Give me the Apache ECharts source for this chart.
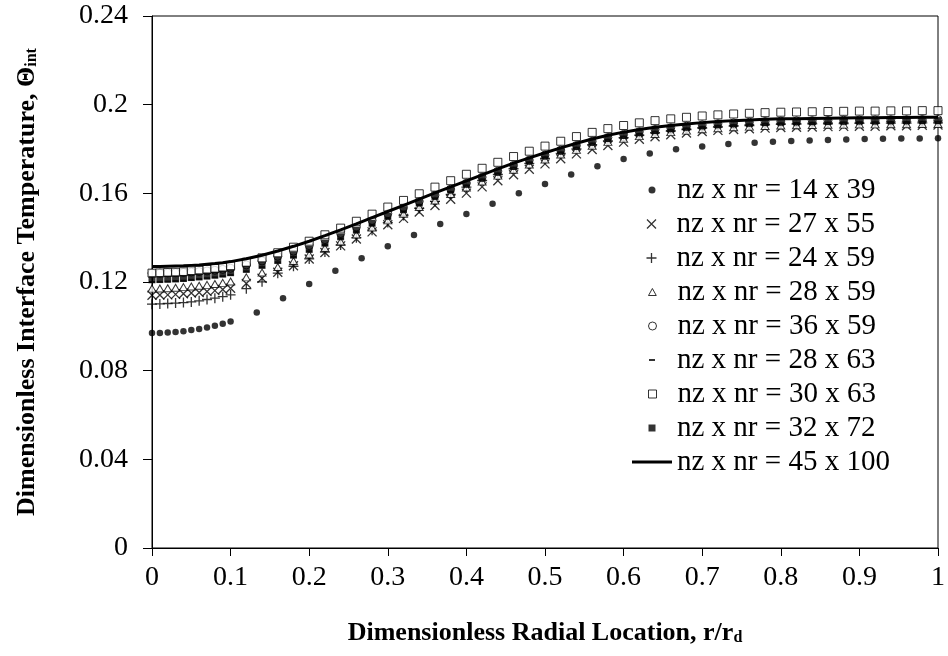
<!DOCTYPE html>
<html>
<head>
<meta charset="utf-8">
<script src="https://cdn.jsdelivr.net/npm/echarts@6/dist/echarts.min.js"></script>
<style>
  html, body { margin: 0; padding: 0; background: #fff; }
  #main { width: 948px; height: 656px; }
</style>
</head>
<body>
<div id="main"></div>
<script>
// radial positions (14 x 39 grid is coarser)
const xCoarse = [0, 0.01, 0.02, 0.03, 0.04, 0.05, 0.06, 0.07, 0.08, 0.09, 0.1,
  0.1333, 0.1667, 0.2, 0.2333, 0.2667, 0.3, 0.3333, 0.3667, 0.4, 0.4333, 0.4667, 0.5,
  0.5333, 0.5667, 0.6, 0.6333, 0.6667, 0.7, 0.7333, 0.7667,
  0.79, 0.8133, 0.8367, 0.86, 0.8833, 0.9067, 0.93, 0.9533, 0.9767, 1];
const xFine = [0, 0.01, 0.02, 0.03, 0.04, 0.05, 0.06, 0.07, 0.08, 0.09, 0.1,
  0.12, 0.14, 0.16, 0.18, 0.2, 0.22, 0.24, 0.26, 0.28, 0.3,
  0.32, 0.34, 0.36, 0.38, 0.4, 0.42, 0.44, 0.46, 0.48, 0.5,
  0.52, 0.54, 0.56, 0.58, 0.6, 0.62, 0.64, 0.66, 0.68, 0.7,
  0.72, 0.74, 0.76, 0.78, 0.8, 0.82, 0.84, 0.86, 0.88, 0.9,
  0.92, 0.94, 0.96, 0.98, 1];

const y14x39 = [0.0970, 0.0970, 0.0972, 0.0975, 0.0978, 0.0983, 0.0988, 0.0995, 0.1003, 0.1012, 0.1022,
  0.1062, 0.1127, 0.1191, 0.1251, 0.1307, 0.1361, 0.1412, 0.1462, 0.1507, 0.1553, 0.1600, 0.1642,
  0.1685, 0.1722, 0.1755, 0.1780, 0.1799, 0.1811, 0.1822, 0.1828,
  0.1833, 0.1836, 0.1838, 0.1841, 0.1843, 0.1845, 0.1846, 0.1847, 0.1847, 0.1848];

const y27x55 = [0.1140, 0.1141, 0.1142, 0.1144, 0.1147, 0.1150, 0.1153, 0.1157, 0.1161, 0.1166, 0.1172,
  0.1193, 0.1217, 0.1244, 0.1273, 0.1304, 0.1333, 0.1363, 0.1394, 0.1426, 0.1458,
  0.1487, 0.1516, 0.1545, 0.1573, 0.1601, 0.1629, 0.1657, 0.1684, 0.1709, 0.1733,
  0.1756, 0.1778, 0.1798, 0.1816, 0.1831, 0.1844, 0.1855, 0.1864, 0.1872, 0.1879,
  0.1884, 0.1888, 0.1891, 0.1894, 0.1897, 0.1898, 0.1899, 0.1901, 0.1902, 0.1903,
  0.1903, 0.1905, 0.1905, 0.1907, 0.1908];

const y24x59 = [0.1100, 0.1101, 0.1103, 0.1105, 0.1107, 0.1110, 0.1115, 0.1121, 0.1127, 0.1134, 0.1142,
  0.1170, 0.1201, 0.1240, 0.1271, 0.1304, 0.1335, 0.1367, 0.1400, 0.1434, 0.1468,
  0.1500, 0.1532, 0.1564, 0.1595, 0.1628, 0.1658, 0.1685, 0.1711, 0.1735, 0.1758,
  0.1780, 0.1801, 0.1820, 0.1837, 0.1851, 0.1863, 0.1873, 0.1881, 0.1888, 0.1894,
  0.1899, 0.1903, 0.1906, 0.1909, 0.1911, 0.1912, 0.1913, 0.1914, 0.1915, 0.1916,
  0.1916, 0.1917, 0.1917, 0.1918, 0.1918];

const y28x59 = [0.1170, 0.1171, 0.1172, 0.1174, 0.1177, 0.1180, 0.1183, 0.1187, 0.1191, 0.1196, 0.1202,
  0.1221, 0.1243, 0.1268, 0.1295, 0.1324, 0.1353, 0.1383, 0.1414, 0.1446, 0.1478,
  0.1508, 0.1538, 0.1568, 0.1597, 0.1626, 0.1653, 0.1680, 0.1706, 0.1730, 0.1753,
  0.1775, 0.1796, 0.1815, 0.1832, 0.1846, 0.1858, 0.1868, 0.1876, 0.1883, 0.1889,
  0.1894, 0.1898, 0.1901, 0.1904, 0.1906, 0.1907, 0.1908, 0.1909, 0.1910, 0.1911,
  0.1911, 0.1912, 0.1912, 0.1913, 0.1913];

const y36x59 = [0.1240, 0.1240, 0.1241, 0.1242, 0.1243, 0.1245, 0.1247, 0.1250, 0.1253, 0.1257, 0.1262,
  0.1277, 0.1295, 0.1316, 0.1339, 0.1364, 0.1391, 0.1419, 0.1448, 0.1478, 0.1508,
  0.1536, 0.1564, 0.1592, 0.1619, 0.1646, 0.1673, 0.1700, 0.1726, 0.1750, 0.1773,
  0.1795, 0.1816, 0.1835, 0.1852, 0.1866, 0.1878, 0.1888, 0.1896, 0.1903, 0.1909,
  0.1914, 0.1918, 0.1921, 0.1924, 0.1926, 0.1927, 0.1928, 0.1929, 0.1930, 0.1931,
  0.1931, 0.1932, 0.1932, 0.1933, 0.1933];

const y28x63 = [0.1200, 0.1201, 0.1202, 0.1204, 0.1206, 0.1210, 0.1213, 0.1217, 0.1221, 0.1226, 0.1232,
  0.1248, 0.1267, 0.1289, 0.1313, 0.1339, 0.1367, 0.1396, 0.1426, 0.1457, 0.1488,
  0.1518, 0.1548, 0.1578, 0.1607, 0.1636, 0.1663, 0.1690, 0.1716, 0.1740, 0.1763,
  0.1785, 0.1806, 0.1825, 0.1842, 0.1856, 0.1868, 0.1878, 0.1886, 0.1893, 0.1899,
  0.1904, 0.1908, 0.1911, 0.1914, 0.1916, 0.1917, 0.1918, 0.1919, 0.1920, 0.1921,
  0.1921, 0.1922, 0.1922, 0.1923, 0.1923];

const y30x63 = [0.1240, 0.1241, 0.1243, 0.1244, 0.1246, 0.1250, 0.1253, 0.1257, 0.1261, 0.1266, 0.1272,
  0.1289, 0.1309, 0.1332, 0.1357, 0.1384, 0.1413, 0.1443, 0.1474, 0.1506, 0.1538,
  0.1568, 0.1598, 0.1628, 0.1657, 0.1686, 0.1713, 0.1740, 0.1766, 0.1790, 0.1813,
  0.1835, 0.1856, 0.1875, 0.1892, 0.1906, 0.1918, 0.1928, 0.1936, 0.1943, 0.1949,
  0.1954, 0.1958, 0.1961, 0.1964, 0.1966, 0.1967, 0.1968, 0.1969, 0.1970, 0.1971,
  0.1971, 0.1972, 0.1972, 0.1973, 0.1973];

const y32x72 = [0.1210, 0.1211, 0.1213, 0.1214, 0.1216, 0.1220, 0.1223, 0.1227, 0.1231, 0.1236, 0.1242,
  0.1257, 0.1275, 0.1297, 0.1321, 0.1347, 0.1375, 0.1404, 0.1434, 0.1465, 0.1496,
  0.1526, 0.1556, 0.1586, 0.1615, 0.1641, 0.1668, 0.1695, 0.1721, 0.1745, 0.1768,
  0.1790, 0.1811, 0.1830, 0.1847, 0.1861, 0.1873, 0.1883, 0.1891, 0.1898, 0.1904,
  0.1909, 0.1913, 0.1916, 0.1919, 0.1921, 0.1922, 0.1923, 0.1924, 0.1925, 0.1926,
  0.1926, 0.1927, 0.1927, 0.1928, 0.1928];

const y45x100 = [0.1270, 0.1270, 0.1271, 0.1272, 0.1273, 0.1275, 0.1277, 0.1280, 0.1283, 0.1287, 0.1292,
  0.1305, 0.1321, 0.1340, 0.1361, 0.1384, 0.1409, 0.1435, 0.1462, 0.1490, 0.1518,
  0.1546, 0.1574, 0.1602, 0.1629, 0.1656, 0.1683, 0.1710, 0.1736, 0.1760, 0.1783,
  0.1805, 0.1826, 0.1845, 0.1862, 0.1876, 0.1888, 0.1898, 0.1906, 0.1913, 0.1919,
  0.1924, 0.1928, 0.1931, 0.1934, 0.1936, 0.1937, 0.1938, 0.1939, 0.1940, 0.1941,
  0.1941, 0.1942, 0.1942, 0.1943, 0.1943];

const font = "'Liberation Serif', 'Times New Roman', serif";
const crossPath = 'path://M0,0L10,10M10,0L0,10';
const plusPath = 'path://M5,0L5,10M0,5L10,5';
const rectPath = 'path://M0,0H10V10H0Z';
const triPath = 'path://M5,0L10,9L0,9Z';
const stroke = { color: 'none', borderColor: '#000', borderWidth: 1.3 };
const hollow = { color: '#fff', borderColor: '#000', borderWidth: 1 };
const solid = { color: '#000', borderWidth: 0 };

// iw = width used to place the legend icon, ih = its height
const spec = [
  { name: 'nz x nr = 14 x 39', x: xCoarse, y: y14x39, symbol: 'circle', size: 6.5, style: solid, icon: 'circle', iw: 7, ih: 7 },
  { name: 'nz x nr = 27 x 55', x: xFine, y: y27x55, symbol: crossPath, size: 9, style: stroke, icon: crossPath, iw: 15, ih: 9 },
  { name: 'nz x nr = 24 x 59', x: xFine, y: y24x59, symbol: plusPath, size: 10, style: stroke, icon: plusPath, iw: 16, ih: 10 },
  { name: 'nz x nr = 28 x 59', x: xFine, y: y28x59, symbol: triPath, size: [8, 7], style: hollow, icon: triPath, iw: 8, ih: 7 },
  { name: 'nz x nr = 36 x 59', x: xFine, y: y36x59, symbol: 'circle', size: 8, style: hollow, icon: 'circle', iw: 8, ih: 8 },
  { name: 'nz x nr = 28 x 63', x: xFine, y: y28x63, symbol: 'rect', size: [6, 2], style: solid, icon: 'path://M0,0H3V1H0Z', iw: 6, ih: 2 },
  { name: 'nz x nr = 30 x 63', x: xFine, y: y30x63, symbol: rectPath, size: 8, style: hollow, icon: rectPath, iw: 8, ih: 8 },
  { name: 'nz x nr = 32 x 72', x: xFine, y: y32x72, symbol: 'rect', size: 7, style: solid, icon: rectPath, iw: 7, ih: 7 }
];

const series = spec.map(s => ({
  name: s.name,
  type: 'scatter',
  symbol: s.symbol,
  symbolSize: s.size,
  itemStyle: s.style,
  emphasis: { disabled: true },
  data: s.x.map((x, i) => [x, s.y[i]])
}));
series.push({
  name: 'nz x nr = 45 x 100',
  type: 'line',
  showSymbol: false,
  symbol: 'none',
  lineStyle: { color: '#000', width: 3 },
  itemStyle: { color: '#000' },
  emphasis: { disabled: true },
  data: xFine.map((x, i) => [x, y45x100[i]])
});

const legendIcons = spec.map(s => ({ name: s.name, icon: s.icon, iw: s.iw, ih: s.ih, style: s.style }));
legendIcons.push({ name: 'nz x nr = 45 x 100', icon: 'path://M0,0H40V3H0Z', iw: 40, ih: 3, style: solid });

// one legend per entry so every icon keeps its own size;
// icons centred at x=652, text starting at x=677
const legend = legendIcons.map((l, i) => ({
  data: [l.name],
  left: 652 - l.iw / 2,
  top: 175 + 34 * i,
  padding: 0,
  itemWidth: 40,
  itemHeight: l.ih,
  icon: l.icon,
  selectedMode: false,
  itemStyle: l.style,
  textStyle: { fontFamily: font, fontSize: 29, color: '#000', lineHeight: 30 }
}));

const chart = echarts.init(document.getElementById('main'));
chart.setOption({
  animation: false,
  backgroundColor: '#fff',
  grid: { left: 152, right: 5, top: 16, bottom: 108, show: true, borderColor: '#000', borderWidth: 1 },
  legend: legend,
  xAxis: {
    type: 'value', min: 0, max: 1, interval: 0.1,
    axisLine: { show: true, lineStyle: { color: '#000', width: 1 } },
    axisTick: { show: true, length: 8, lineStyle: { color: '#000' } },
    splitLine: { show: false },
    axisLabel: { color: '#000', fontFamily: font, fontSize: 28, margin: 16 },
    name: 'Dimensionless Radial Location, r/r{s|d}',
    nameLocation: 'middle',
    nameGap: 72,
    nameTextStyle: {
      fontFamily: font, fontSize: 26, fontWeight: 'bold', color: '#000',
      rich: { s: { fontFamily: font, fontSize: 16, fontWeight: 'bold', color: '#000', verticalAlign: 'bottom', lineHeight: 16 } }
    }
  },
  yAxis: {
    type: 'value', min: 0, max: 0.24, interval: 0.04,
    axisLine: { show: true, lineStyle: { color: '#000', width: 1 } },
    axisTick: { show: true, length: 9, lineStyle: { color: '#000' } },
    splitLine: { show: false },
    axisLabel: { color: '#000', fontFamily: font, fontSize: 28, margin: 24 },
    name: 'Dimensionless Interface Temperature, \u0398{s|int}',
    nameLocation: 'middle',
    nameGap: 112,
    nameTextStyle: {
      fontFamily: font, fontSize: 26, fontWeight: 'bold', color: '#000',
      rich: { s: { fontFamily: font, fontSize: 16, fontWeight: 'bold', color: '#000', verticalAlign: 'bottom', lineHeight: 16 } }
    }
  },
  series: series
});
</script>
</body>
</html>
